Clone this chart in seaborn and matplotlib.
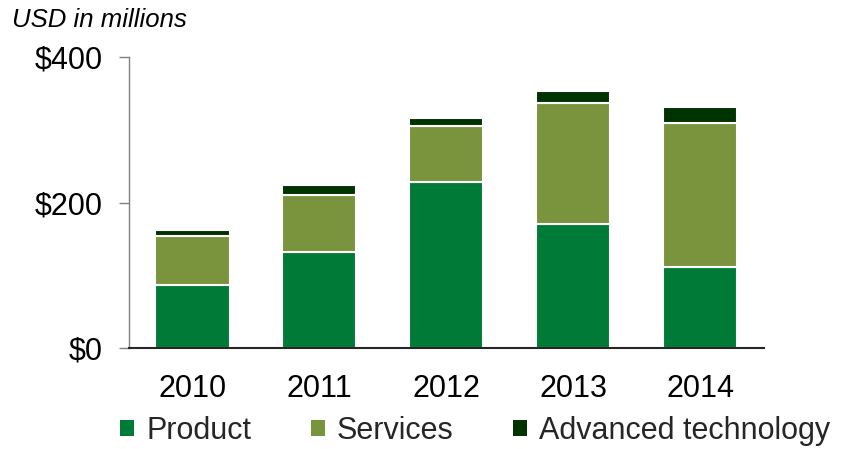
import numpy as np
import pandas as pd
import matplotlib
matplotlib.use("Agg")
import matplotlib.pyplot as plt
import seaborn as sns
from matplotlib.patches import Patch

years = ["2010", "2011", "2012", "2013", "2014"]
product = [87, 132, 228, 170, 112]
services = [67, 78, 78, 167, 197]
advanced = [8, 14, 11, 17, 23]
series_names = ["Product", "Services", "Advanced technology"]
colors = ["#007A37", "#7A943E", "#003300"]
ytick_vals = [0, 200, 400]
ytick_labels = ["$0", "$200", "$400"]

sns.set_theme(style="white")
plt.rcParams["font.family"] = ["Liberation Sans", "DejaVu Sans"]

fig = plt.figure(figsize=(8.46, 4.49), dpi=100)
ax = fig.add_axes([129 / 846, 1 - 348 / 449, (763.5 - 129) / 846, (348 - 57.3) / 449])

df = pd.DataFrame({"year": years, "Product": product, "Services": services,
                   "Advanced technology": advanced})
bottom = np.zeros(len(years))
for name, col in zip(series_names, colors):
    sns.barplot(data=df, x="year", y=name, color=col, ax=ax, width=0.585,
                bottom=bottom.copy(), edgecolor="white", linewidth=1.5,
                saturation=1, errorbar=None)
    bottom += df[name].values

ax.set_xlim(-0.5, 4.5)
ax.set_ylim(0, 400)
ax.set_yticks(ytick_vals)
ax.set_yticklabels(ytick_labels)
ax.set_xlabel("")
ax.set_ylabel("")

for s in ["top", "right"]:
    ax.spines[s].set_visible(False)
ax.spines["left"].set_color("#808080")
ax.spines["left"].set_linewidth(1.0)
ax.spines["bottom"].set_color("#262626")
ax.spines["bottom"].set_linewidth(1.5)
ax.spines["bottom"].set_zorder(5)

ax.tick_params(axis="y", which="major", left=True, length=7, width=1.0,
               color="#808080", pad=12, labelsize=22, labelcolor="black")
ax.tick_params(axis="x", which="major", bottom=False, pad=13, labelsize=22,
               labelcolor="black")

fig.text(12 / 846, 1 - 20 / 449, "USD in millions", fontsize=18.5, style="italic",
         ha="left", va="center", color="black")

handles = [Patch(facecolor=c, edgecolor="none") for c in colors]
fig.legend(handles, series_names, loc="center", bbox_to_anchor=(475.4 / 846, 1 - 431 / 449),
           ncol=3, frameon=False, fontsize=22, handlelength=0.45, handleheight=0.45,
           handletextpad=0.4, columnspacing=1.95, borderpad=0)

fig.savefig("out.png", dpi=100)
